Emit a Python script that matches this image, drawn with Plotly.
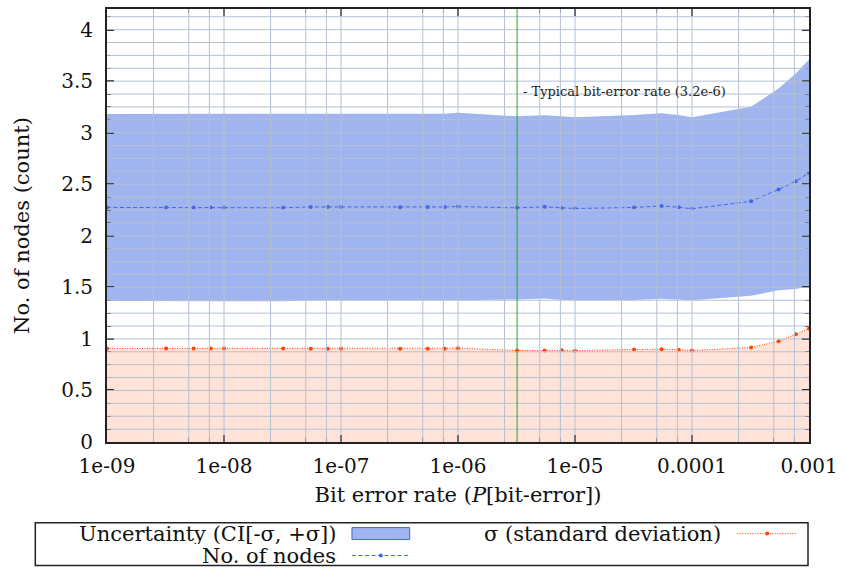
import numpy as np
import plotly.graph_objects as go

# Bit error rate sweep and measured statistics
ber = [1e-9, 3.2e-9, 5.5e-9, 7.7e-9,
       1e-8, 3.2e-8, 5.5e-8, 7.7e-8,
       1e-7, 3.2e-7, 5.5e-7, 7.7e-7,
       1e-6, 3.2e-6, 5.5e-6, 7.7e-6,
       1e-5, 3.2e-5, 5.5e-5, 7.7e-5,
       1e-4, 3.2e-4, 5.5e-4, 7.7e-4,
       1e-3]
nodes_mean = [2.275, 2.275, 2.275, 2.275,
              2.275, 2.272, 2.280, 2.280,
              2.280, 2.276, 2.280, 2.280,
              2.284, 2.271, 2.281, 2.268,
              2.265, 2.275, 2.290, 2.277,
              2.262, 2.335, 2.450, 2.530,
              2.610]
nodes_sigma = [0.907, 0.907, 0.907, 0.907,
               0.907, 0.907, 0.905, 0.905,
               0.905, 0.905, 0.905, 0.905,
               0.910, 0.888, 0.888, 0.890,
               0.886, 0.898, 0.900, 0.894,
               0.888, 0.917, 0.978, 1.045,
               1.100]
typical_ber = 3.2e-6

x_tick_vals = [1e-9, 1e-8, 1e-7, 1e-6, 1e-5, 1e-4, 1e-3]
x_tick_text = ["1e-09", "1e-08", "1e-07", "1e-06", "1e-05", "0.0001", "0.001"]
y_tick_vals = [0, 0.5, 1, 1.5, 2, 2.5, 3, 3.5, 4]
y_tick_text = ["0", "0.5", "1", "1.5", "2", "2.5", "3", "3.5", "4"]

FONT = "DejaVu Serif"
BLUE = "rgb(65,105,225)"
BLUE_FILL = "rgba(65,105,225,0.5)"
ORANGE = "rgb(255,69,0)"
ORANGE_FILL = "rgba(255,69,0,0.15)"
GRID = "#b4c0d2"
TICK_SIZE = 20
LABEL_SIZE = 21

upper = [m + s for m, s in zip(nodes_mean, nodes_sigma)]
lower = [m - s for m, s in zip(nodes_mean, nodes_sigma)]

fig = go.Figure()

# sigma area and line
fig.add_trace(go.Scatter(
    x=ber, y=nodes_sigma, mode="lines+markers", fill="tozeroy",
    fillcolor=ORANGE_FILL, line=dict(color=ORANGE, width=1, dash="1px,1.5px"),
    marker=dict(color=ORANGE, size=4), showlegend=False))

# uncertainty band (mean +/- sigma)
fig.add_trace(go.Scatter(x=ber, y=lower, mode="lines",
                         line=dict(width=0), showlegend=False))
fig.add_trace(go.Scatter(x=ber, y=upper, mode="lines", fill="tonexty",
                         fillcolor=BLUE_FILL, line=dict(width=0),
                         showlegend=False))

# mean number of nodes
fig.add_trace(go.Scatter(
    x=ber, y=nodes_mean, mode="lines+markers",
    line=dict(color=BLUE, width=1, dash="4px,2.5px"),
    marker=dict(color=BLUE, size=4), showlegend=False))

shapes = []

# grid drawn above the filled areas
x_grid = []
for e in range(-9, -3):
    for m in (2.5, 5, 7.5):
        x_grid.append(m * 10.0 ** e)
    if e > -9:
        x_grid.append(10.0 ** e)
for gx in x_grid:
    shapes.append(dict(type="line", xref="x", yref="y", x0=gx, x1=gx,
                       y0=0, y1=4.2, layer="above",
                       line=dict(color=GRID, width=1)))
for k in range(1, 34):
    gy = 0.125 * k
    shapes.append(dict(type="line", xref="x", yref="y", x0=1e-9, x1=1e-3,
                       y0=gy, y1=gy, layer="above",
                       line=dict(color=GRID, width=1)))

# typical bit error rate marker line
shapes.append(dict(type="line", xref="x", yref="y", x0=typical_ber,
                   x1=typical_ber, y0=0, y1=4.2, layer="above",
                   line=dict(color="#22aa22", width=1)))

# ---- custom key below the plot (pixel helpers) ----
L, R, T, B = 107, 812, 7, 442
W, H = R - L, B - T


def px(xp):
    return (xp - L) / W


def py(yp):
    return (B - yp) / H


ROW1, ROW2 = 534, 556

shapes.append(dict(type="rect", xref="paper", yref="paper",
                   x0=px(35), x1=px(811), y0=py(523), y1=py(566),
                   line=dict(color="#222", width=1.5), layer="above"))
# uncertainty swatch
shapes.append(dict(type="rect", xref="paper", yref="paper",
                   x0=px(353), x1=px(411), y0=py(ROW1 - 6), y1=py(ROW1 + 6),
                   fillcolor=BLUE_FILL, line=dict(color=BLUE, width=1),
                   layer="above"))
# mean line sample
shapes.append(dict(type="line", xref="paper", yref="paper",
                   x0=px(353), x1=px(411), y0=py(ROW2), y1=py(ROW2),
                   line=dict(color=BLUE, width=1, dash="4px,2.5px"),
                   layer="above"))
shapes.append(dict(type="circle", xref="paper", yref="paper",
                   x0=px(380), x1=px(384), y0=py(ROW2 - 2), y1=py(ROW2 + 2),
                   fillcolor=BLUE, line=dict(width=0), layer="above"))
# sigma line sample
shapes.append(dict(type="line", xref="paper", yref="paper",
                   x0=px(740), x1=px(799), y0=py(ROW1), y1=py(ROW1),
                   line=dict(color=ORANGE, width=1, dash="1px,1.5px"),
                   layer="above"))
shapes.append(dict(type="circle", xref="paper", yref="paper",
                   x0=px(768), x1=px(772), y0=py(ROW1 - 2), y1=py(ROW1 + 2),
                   fillcolor=ORANGE, line=dict(width=0), layer="above"))

key_font = dict(family=FONT, size=LABEL_SIZE, color="#111")
annotations = [
    dict(x=np.log10(typical_ber), y=3.4, xref="x", yref="y",
         text="- Typical bit-error rate (3.2e-6)", showarrow=False,
         xanchor="left", yanchor="middle", xshift=4,
         font=dict(family=FONT, size=13, color="#222")),
    dict(x=px(339), y=py(ROW1), xref="paper", yref="paper",
         text="Uncertainty (CI[-σ, +σ])", showarrow=False,
         xanchor="right", yanchor="middle", height=21, font=key_font),
    dict(x=px(339), y=py(ROW2), xref="paper", yref="paper",
         text="No. of nodes", showarrow=False,
         xanchor="right", yanchor="middle", height=21, font=key_font),
    dict(x=px(726), y=py(ROW1), xref="paper", yref="paper",
         text="σ (standard deviation)", showarrow=False,
         xanchor="right", yanchor="middle", height=21, font=key_font),
]

x_minor = []
for e in range(-9, -3):
    for m in (2.5, 5, 7.5):
        x_minor.append(m * 10.0 ** e)

fig.update_layout(
    width=845, height=569,
    margin=dict(l=L, r=845 - R, t=T, b=569 - B),
    plot_bgcolor="white", paper_bgcolor="white",
    font=dict(family=FONT, size=LABEL_SIZE, color="#111"),
    shapes=shapes, annotations=annotations,
    showlegend=False,
    xaxis=dict(
        type="log", range=[-9, -3],
        tickvals=x_tick_vals, ticktext=x_tick_text,
        ticks="inside", ticklen=7, tickwidth=1.5, tickcolor="#222",
        showgrid=False, zeroline=False,
        showline=True, linecolor="#222", linewidth=2, mirror="allticks",
        minor=dict(tickvals=x_minor, ticks="inside", ticklen=4,
                   tickwidth=1, tickcolor="#222", showgrid=False),
        title=dict(text="Bit error rate (<i>P</i>[bit-error])",
                   font=dict(size=LABEL_SIZE), standoff=10),
        tickfont=dict(size=TICK_SIZE),
        ticklabelstandoff=5,
    ),
    yaxis=dict(
        range=[0, 4.2],
        tickvals=y_tick_vals, ticktext=y_tick_text,
        ticks="inside", ticklen=7, tickwidth=1.5, tickcolor="#222",
        showgrid=False, zeroline=False,
        showline=True, linecolor="#222", linewidth=2, mirror="allticks",
        minor=dict(dtick=0.125, ticks="inside", ticklen=4,
                   tickwidth=1, tickcolor="#222", showgrid=False),
        title=dict(text="No. of nodes (count)", font=dict(size=LABEL_SIZE),
                   standoff=26),
        tickfont=dict(size=TICK_SIZE),
        ticklabelstandoff=8,
    ),
)

fig.write_html("out.html")
